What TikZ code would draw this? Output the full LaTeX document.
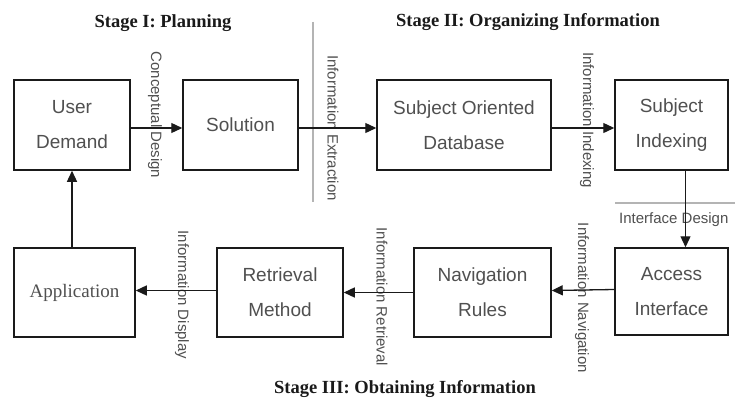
\documentclass[tikz,border=0pt]{standalone}
\usepackage{fontspec}
\setmainfont{Liberation Serif}
\setsansfont{Liberation Sans}
\usetikzlibrary{arrows.meta}
\definecolor{txt}{HTML}{505050}
\definecolor{ln}{HTML}{1A1A1A}
\definecolor{sep}{HTML}{B4B4B4}
\tikzset{
  box/.style={draw=ln, line width=1.5pt, rectangle, align=center, text=txt,
    font=\sffamily\fontsize{19}{35}\selectfont, inner sep=0pt},
  arr/.style={draw=ln, line width=1.3pt, -{Triangle[length=11pt,width=10pt]}},
  lab/.style={text=txt, font=\sffamily\fontsize{15}{17}\selectfont, inner sep=0pt},
  vlab/.style={lab, rotate=-90},
  head/.style={text=ln, font=\rmfamily\bfseries\fontsize{18.5}{20}\selectfont, inner sep=0pt},
  sepline/.style={draw=sep, line width=2pt}
}
\begin{document}
\begin{tikzpicture}[x=1pt,y=-1pt]
\useasboundingbox (0,0) rectangle (735,404);
\fill[white] (0,0) rectangle (735,404);

% separators
\draw[sepline] (313,22) -- (313,202);
\draw[sepline] (615,203) -- (735,203);

% boxes
\node[box, minimum width=116pt, minimum height=90pt] (ud) at (72,125) {User\\Demand};
\node[box, minimum width=115pt, minimum height=90pt] (sol) at (240.5,125) {Solution};
\node[box, minimum width=174pt, minimum height=90pt] (sod) at (464,125) {Subject Oriented\\Database};
\node[box, minimum width=113pt, minimum height=90pt] (si) at (671.5,125) {Subject\\Indexing};
\node[box, minimum width=113pt, minimum height=87pt] (ai) at (671.5,291.5) {Access\\Interface};
\node[box, minimum width=137pt, minimum height=89pt] (nr) at (482.5,292.5) {Navigation\\Rules};
\node[box, minimum width=126pt, minimum height=89pt] (rm) at (280,292.5) {Retrieval\\Method};
\node[box, minimum width=121pt, minimum height=89pt, font=\rmfamily\fontsize{19}{35}\selectfont] (app) at (74.5,292.5) {Application};

% labels
\node[vlab] (l1) at (155,115) {Conceptual Design};
\node[vlab] (l2) at (333,128) {Information Extraction};
\node[vlab] (l3) at (587,120) {Information Indexing};
\node[lab, anchor=west] (l4) at (619,220) {Interface Design};
\node[vlab] (l5) at (582,298) {Information Navigation};
\node[vlab] (l6) at (382,297) {Information Retrieval};
\node[vlab] (l7) at (182,295) {Information Display};

% headings
\node[head] (h1) at (163,23) {Stage I: Planning};
\node[head] (h2) at (528,22) {Stage II: Organizing Information};
\node[head] (h3) at (405,389) {Stage III: Obtaining Information};

% connectors
\draw[arr] ([yshift=-3pt]ud.east) -- ([yshift=-3pt]sol.west);
\draw[arr] ([yshift=-3pt]sol.east) -- ([yshift=-3pt]sod.west);
\draw[arr] ([yshift=-3pt]sod.east) -- ([yshift=-3pt]si.west);
\draw[arr] ([xshift=14pt]si.south) -- ([xshift=14pt]ai.north);
\draw[arr] ([yshift=2pt]ai.west) -- ([yshift=2pt]nr.east);
\draw[arr] (nr.west) -- (rm.east);
\draw[arr] ([yshift=2pt]rm.west) -- ([yshift=2pt]app.east);
\draw[arr] (app.north -| ud.south) -- (ud.south);
\end{tikzpicture}
\end{document}
